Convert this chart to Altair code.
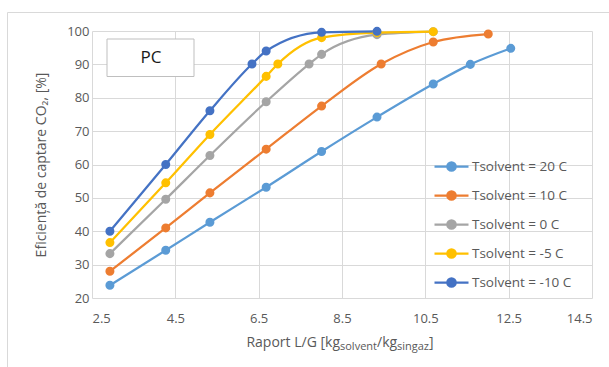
import altair as alt
import pandas as pd

# Series labels and Excel-style colours
series_names = ["Tsolvent = 20 C", "Tsolvent = 10 C", "Tsolvent = 0 C",
                "Tsolvent = -5 C", "Tsolvent = -10 C"]
series_colors = ["#5B9BD5", "#ED7D31", "#A5A5A5", "#FFC000", "#4472C4"]

# L/G ratio [kg solvent / kg syngas] and CO2 capture efficiency [%]
lg_20 = [2.93, 4.27, 5.33, 6.68, 8.01, 9.34, 10.69, 11.58, 12.55]
eff_20 = [23.8, 34.3, 42.7, 53.2, 63.9, 74.2, 84.1, 90.0, 94.8]
lg_10 = [2.93, 4.27, 5.33, 6.68, 8.01, 9.44, 10.69, 12.01]
eff_10 = [28.0, 41.0, 51.5, 64.6, 77.5, 90.1, 96.7, 99.1]
lg_0 = [2.93, 4.27, 5.33, 6.68, 7.71, 8.01, 9.34, 10.69]
eff_0 = [33.3, 49.6, 62.7, 78.8, 90.1, 93.0, 98.9, 99.8]
lg_m5 = [2.93, 4.27, 5.33, 6.68, 6.96, 8.01, 9.34, 10.69]
eff_m5 = [36.6, 54.5, 69.0, 86.4, 90.1, 98.0, 99.5, 99.8]
lg_m10 = [2.93, 4.27, 5.33, 6.34, 6.68, 8.01, 9.34]
eff_m10 = [40.0, 60.0, 76.1, 90.1, 94.0, 99.6, 99.9]

x_ticks = [2.5, 4.5, 6.5, 8.5, 10.5, 12.5, 14.5]
y_ticks = [20, 30, 40, 50, 60, 70, 80, 90, 100]

y_title = "Eficiență de captare CO₂, [%]"
x_title_parts = ["Raport L/G [kg", "solvent", "/kg", "singaz", "]"]
panel_label = "PC"

FONT = "Open Sans, Noto Sans, DejaVu Sans"
GREY_TEXT = "#595959"
GRID = "#D9D9D9"

xs = [lg_20, lg_10, lg_0, lg_m5, lg_m10]
ys = [eff_20, eff_10, eff_0, eff_m5, eff_m10]
rows = []
for name, xv, yv in zip(series_names, xs, ys):
    for i, (a, b) in enumerate(zip(xv, yv)):
        rows.append({"series": name, "lg": a, "eff": b, "idx": i})
df = pd.DataFrame(rows)

color_scale = alt.Scale(domain=series_names, range=series_colors)

# legend symbol: short line with a filled circle in the middle
legend_symbol = ("M-1.7,0L1.7,0M-0.42,0A0.42,0.42,0,1,0,0.42,0"
                 "A0.42,0.42,0,1,0,-0.42,0Z")
legend = alt.Legend(
    orient="none", legendX=348, legendY=124, title=None,
    symbolType=legend_symbol, symbolSize=400, symbolStrokeWidth=2.25,
    labelFont=FONT, labelFontSize=13.5, labelFontWeight="normal",
    labelColor=GREY_TEXT, labelOffset=9, rowPadding=8, padding=0,
)

x_enc = alt.X("lg:Q", scale=alt.Scale(domain=[2.5, 14.5], nice=False, zero=False),
              axis=alt.Axis(values=x_ticks, format=".1f", title=None, grid=True,
                            gridColor=GRID, ticks=False, domain=False,
                            labelFont=FONT, labelFontSize=13, labelColor=GREY_TEXT,
                            labelPadding=14))
y_enc = alt.Y("eff:Q", scale=alt.Scale(domain=[20, 100], nice=False, zero=False),
              axis=alt.Axis(values=y_ticks, title=y_title, grid=True,
                            gridColor=GRID, ticks=False, domain=False,
                            labelFont=FONT, labelFontSize=13, labelColor=GREY_TEXT,
                            labelPadding=3, titleFont=FONT, titleFontSize=14,
                            titleFontWeight="normal", titleColor=GREY_TEXT,
                            titlePadding=18))

one = pd.DataFrame({"k": [0]})

frame = alt.Chart(one).mark_rect(fill=None, stroke=GRID, strokeWidth=1).encode(
    x=alt.value(-84.5), x2=alt.value(530), y=alt.value(-18.5), y2=alt.value(350))

lines = alt.Chart(df).mark_line(interpolate="monotone", strokeWidth=2.25).encode(
    x=x_enc, y=y_enc,
    stroke=alt.Stroke("series:N", scale=color_scale, legend=legend),
    order="idx:Q",
)

points = alt.Chart(df).mark_point(filled=True, size=46, strokeWidth=2.25,
                                  opacity=1).encode(
    x=x_enc, y=y_enc,
    fill=alt.Fill("series:N", scale=color_scale, legend=legend),
    stroke=alt.Stroke("series:N", scale=color_scale, legend=legend),
)

pc_box = alt.Chart(one).mark_rect(fill="white", stroke="#BFBFBF", strokeWidth=1).encode(
    x=alt.value(15), x2=alt.value(102), y=alt.value(8), y2=alt.value(45.5))
pc_text = alt.Chart(one).mark_text(text=panel_label, font=FONT, fontSize=17,
                                   color="#1A1A1A", baseline="middle",
                                   align="center").encode(
    x=alt.value(59), y=alt.value(27))

# x-axis title built from pieces so the units can carry subscripts
sizes = [14, 11, 14, 11, 14]
aligns = ["right", "left", "left", "left", "left"]
xpos = [248, 248, 285, 305, 337]
ypos = [316, 319, 316, 319, 316]
title_layers = []
for txt, fs, al, px, py in zip(x_title_parts, sizes, aligns, xpos, ypos):
    title_layers.append(
        alt.Chart(one).mark_text(text=txt, font=FONT, fontSize=fs, color=GREY_TEXT,
                                 align=al, baseline="alphabetic").encode(
            x=alt.value(px), y=alt.value(py)))

chart = alt.layer(frame, lines, points, pc_box, pc_text, *title_layers).properties(
    width=500, height=267,
    autosize=alt.AutoSizeParams(type="none"),
    padding={"left": 92, "top": 31, "right": 17, "bottom": 69},
    background="white",
).configure_view(stroke=None).configure_legend(
    labelFont=FONT, labelFontSize=13.5, labelFontWeight="normal",
    labelColor=GREY_TEXT,
)

chart.save("out.html", embed_options={"renderer": "svg", "actions": False})
